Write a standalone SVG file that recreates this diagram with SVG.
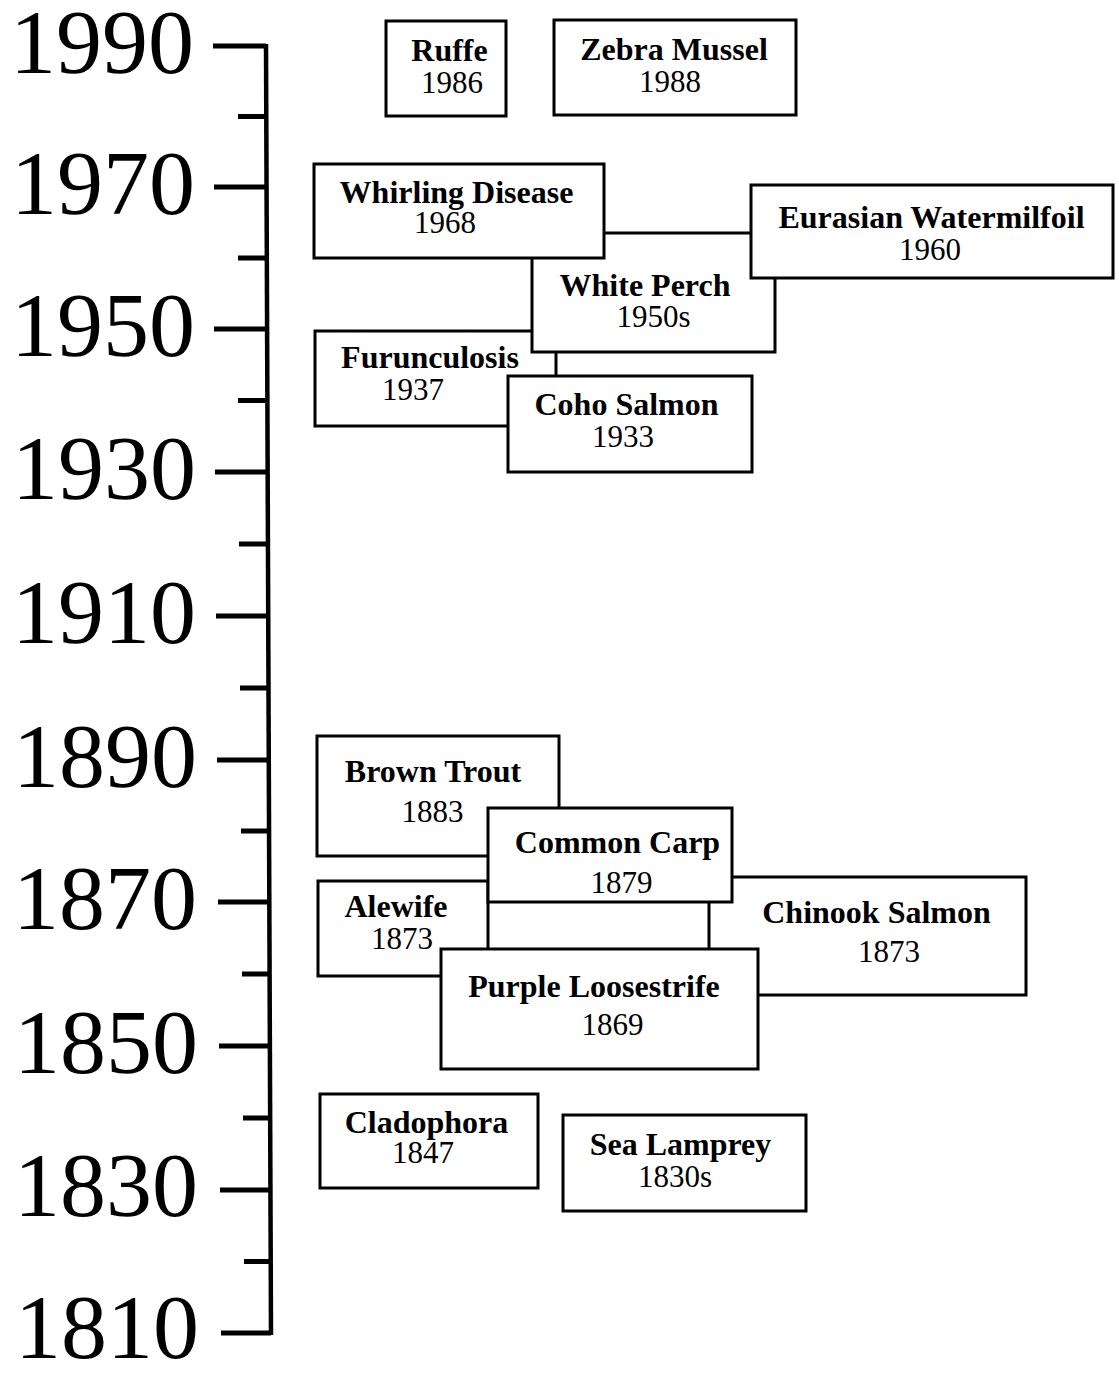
<svg xmlns="http://www.w3.org/2000/svg" width="1119" height="1374" viewBox="0 0 1119 1374">
<style>
.box{fill:#fff;stroke:#000;stroke-width:3}
.nm{font-family:"Liberation Serif","Times New Roman",serif;font-weight:bold;font-size:32px;text-anchor:middle;fill:#000}
.yr{font-family:"Liberation Serif","Times New Roman",serif;font-size:31px;text-anchor:middle;fill:#000}
.lbl{font-family:"Liberation Serif","Times New Roman",serif;font-size:92px;text-anchor:end;fill:#000}
.ax{stroke:#000;stroke-width:4.5;fill:none}
.tk{stroke:#000;stroke-width:5;fill:none}
.mt{stroke:#000;stroke-width:5;fill:none}
</style>
<rect width="1119" height="1374" fill="#fff"/>
<g id="axis">
<path class="ax" d="M266,44 L271,1335"/>
<path class="tk" d="M213,46H266 M214,187H267 M214,329H267 M215,472H268 M216,616H268 M217,760H269 M218,902H269 M219,1046H270 M220,1190H270 M221,1333H271"/>
<path class="mt" d="M238,116.5H266 M238,258H267 M238,400.5H267 M239,544H268 M240,688H268 M241,831H269 M242,974H269 M243,1118H270 M244,1261.5H271"/>
<text class="lbl" x="194" y="73">1990</text>
<text class="lbl" x="195" y="214">1970</text>
<text class="lbl" x="195" y="356">1950</text>
<text class="lbl" x="196" y="499">1930</text>
<text class="lbl" x="196" y="643">1910</text>
<text class="lbl" x="197" y="787">1890</text>
<text class="lbl" x="197" y="929">1870</text>
<text class="lbl" x="198" y="1073">1850</text>
<text class="lbl" x="198" y="1216">1830</text>
<text class="lbl" x="199" y="1358">1810</text>
</g>
<g id="connectors"></g>
<g id="ruffe"><rect class="box" x="386" y="21" width="120" height="95"/><text class="nm" x="449.5" y="61">Ruffe</text><text class="yr" x="452" y="93">1986</text></g>
<g id="zebra-mussel"><rect class="box" x="554" y="20" width="242" height="95"/><text class="nm" x="674" y="60">Zebra Mussel</text><text class="yr" x="670" y="92">1988</text></g>
<g id="furunculosis"><rect class="box" x="315" y="331" width="241" height="95"/><text class="nm" x="430" y="368">Furunculosis</text><text class="yr" x="413" y="400">1937</text></g>
<g id="white-perch"><rect class="box" x="532" y="233" width="243" height="119"/><text class="nm" x="645" y="296">White Perch</text><text class="yr" x="653.5" y="327">1950s</text></g>
<g id="whirling-disease"><rect class="box" x="314" y="164" width="290" height="94"/><text class="nm" x="456.5" y="203">Whirling Disease</text><text class="yr" x="445" y="233">1968</text></g>
<g id="eurasian-watermilfoil"><rect class="box" x="751" y="185" width="362" height="93"/><text class="nm" x="931.5" y="228">Eurasian Watermilfoil</text><text class="yr" x="930" y="260">1960</text></g>
<g id="coho-salmon"><rect class="box" x="508" y="376" width="244" height="96"/><text class="nm" x="626.5" y="415">Coho Salmon</text><text class="yr" x="623" y="447">1933</text></g>
<g id="brown-trout"><rect class="box" x="317" y="736" width="242" height="120"/><text class="nm" x="433" y="782">Brown Trout</text><text class="yr" x="432.5" y="822">1883</text></g>
<g id="alewife"><rect class="box" x="318" y="881" width="170" height="95"/><text class="nm" x="396" y="917">Alewife</text><text class="yr" x="402" y="949">1873</text></g>
<g id="chinook-salmon"><rect class="box" x="709" y="877" width="317" height="118"/><text class="nm" x="876.5" y="923">Chinook Salmon</text><text class="yr" x="889" y="962">1873</text></g>
<g id="common-carp"><rect class="box" x="488" y="808" width="244" height="94"/><text class="nm" x="617.5" y="853">Common Carp</text><text class="yr" x="621.5" y="893">1879</text></g>
<g id="purple-loosestrife"><rect class="box" x="441" y="949" width="317" height="120"/><text class="nm" x="594" y="997">Purple Loosestrife</text><text class="yr" x="612.5" y="1035">1869</text></g>
<g id="cladophora"><rect class="box" x="320" y="1094" width="218" height="94"/><text class="nm" x="426.5" y="1133">Cladophora</text><text class="yr" x="423" y="1163">1847</text></g>
<g id="sea-lamprey"><rect class="box" x="563" y="1115" width="243" height="96"/><text class="nm" x="680.5" y="1155">Sea Lamprey</text><text class="yr" x="675" y="1187">1830s</text></g>
</svg>
